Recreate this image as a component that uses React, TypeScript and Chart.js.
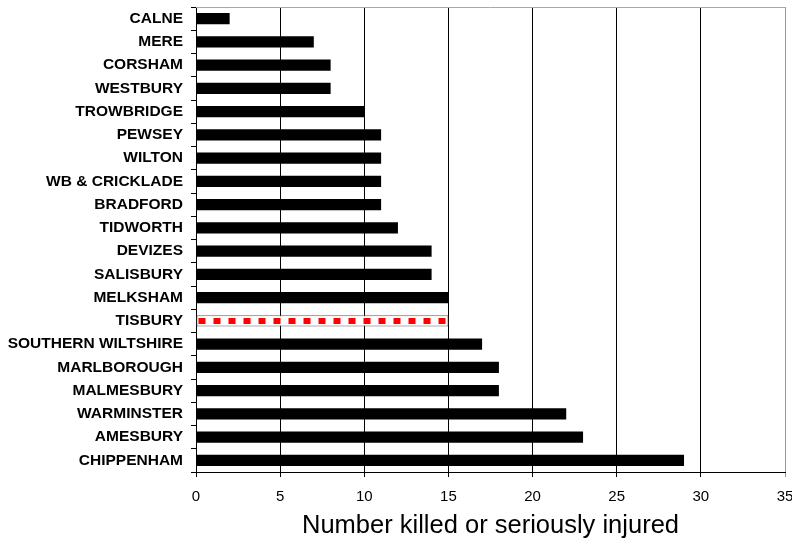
import React, { useEffect, useRef } from 'react';
import { Chart, registerables } from 'chart.js';
Chart.register(...registerables);

const categories = [
  'CALNE', 'MERE', 'CORSHAM', 'WESTBURY', 'TROWBRIDGE', 'PEWSEY', 'WILTON',
  'WB & CRICKLADE', 'BRADFORD', 'TIDWORTH', 'DEVIZES', 'SALISBURY', 'MELKSHAM',
  'TISBURY', 'SOUTHERN WILTSHIRE', 'MARLBOROUGH', 'MALMESBURY', 'WARMINSTER',
  'AMESBURY', 'CHIPPENHAM',
];
const values = [2, 7, 8, 8, 10, 11, 11, 11, 11, 12, 14, 14, 15, 15, 17, 18, 18, 22, 23, 29];
const highlightCategory = 'TISBURY';
const xMin = 0;
const xMax = 35;
const xStep = 5;
const xTitle = 'Number killed or seriously injured';

export default function App() {
  const ref = useRef<HTMLCanvasElement>(null);
  useEffect(() => {
    document.body.style.margin = '0';
    const hi = categories.indexOf(highlightCategory);
    const font = '"Liberation Sans", Arial, sans-serif';
    const decor = {
      id: 'decor',
      afterDatasetsDraw(chart: any) {
        const { ctx, chartArea } = chart;
        ctx.save();
        ctx.strokeStyle = '#a8a8a8';
        ctx.lineWidth = 1;
        ctx.beginPath();
        ctx.moveTo(chartArea.left, Math.round(chartArea.top) + 0.5);
        ctx.lineTo(chartArea.right, Math.round(chartArea.top) + 0.5);
        ctx.stroke();
        const el: any = chart.getDatasetMeta(0).data[hi];
        if (el) {
          ctx.setLineDash([7, 8]);
          ctx.strokeStyle = '#ff0000';
          ctx.lineWidth = 6;
          ctx.beginPath();
          ctx.moveTo(el.base + 2, el.y);
          ctx.lineTo(el.x - 2, el.y);
          ctx.stroke();
        }
        ctx.restore();
      },
    };
    const chart = new Chart(ref.current!, {
      type: 'bar',
      data: {
        labels: categories,
        datasets: [
          {
            data: values,
            backgroundColor: categories.map((c) => (c === highlightCategory ? '#ffffff' : '#000000')),
            borderColor: categories.map((c) => (c === highlightCategory ? '#606060' : '#000000')),
            borderWidth: categories.map((c) => (c === highlightCategory ? 1 : 0)),
            borderSkipped: false,
            categoryPercentage: 1,
            barPercentage: 0.48,
          },
        ],
      },
      options: {
        indexAxis: 'y',
        responsive: false,
        animation: false,
        layout: { padding: { top: 7, right: 7, left: 0, bottom: 0 } },
        plugins: { legend: { display: false }, tooltip: { enabled: false } },
        scales: {
          x: {
            type: 'linear',
            min: xMin,
            max: xMax,
            ticks: { stepSize: xStep, color: '#000', font: { family: font, size: 15 }, padding: 11 },
            grid: {
              color: (c: any) => (c.tick && c.tick.value === xMax ? '#999999' : '#000000'),
              tickLength: 5,
              drawOnChartArea: true,
            },
            border: { color: '#000', width: 1 },
            title: {
              display: true,
              text: xTitle,
              color: '#000',
              font: { family: font, size: 25.5 },
              padding: { top: 0, bottom: 0 },
            },
            afterFit: (s: any) => {
              s.height = 69;
              s.paddingLeft = 0;
              s.paddingRight = 0;
            },
          },
          y: {
            type: 'category',
            grid: { drawOnChartArea: false, tickLength: 5, color: '#000', offset: true },
            ticks: { color: '#000', font: { family: font, size: 15.5, weight: 'bold' }, padding: 8, autoSkip: false },
            border: { color: '#000', width: 1 },
            afterFit: (s: any) => {
              s.width = 196;
              s.paddingTop = 0;
              s.paddingBottom = 0;
            },
          },
        },
      },
      plugins: [decor],
    });
    return () => chart.destroy();
  }, []);
  return (
    <div style={{ width: 792, height: 541 }}>
      <canvas ref={ref} width={792} height={541} style={{ display: 'block' }} />
    </div>
  );
}
